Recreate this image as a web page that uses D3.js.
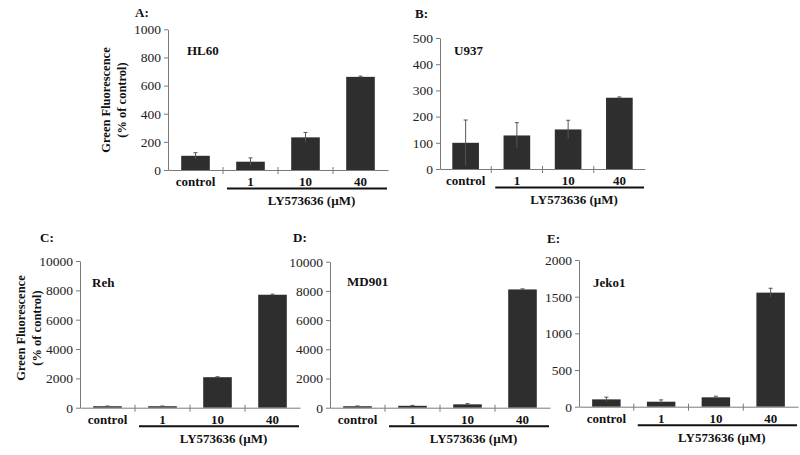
<!DOCTYPE html>
<html><head><meta charset="utf-8">
<script src="https://cdn.jsdelivr.net/npm/d3@7"></script>
<style>
body{margin:0;background:#fff;}
svg{display:block;font-family:"Liberation Serif","Times New Roman",serif;}
svg text{font-family:"Liberation Serif","Times New Roman",serif !important;}
</style></head>
<body><svg id="chart" width="800" height="455"></svg>
<script>
const categories = ["control", "1", "10", "40"];
const panelLetters = ["A:", "B:", "C:", "D:", "E:"];
const cellLines = ["HL60", "U937", "Reh", "MD901", "Jeko1"];
const groupLabel = "LY573636 (\u00b5M)";
const yTitle1 = "Green Fluorescence";
const yTitle2 = "(% of control)";

const hl60Values = [101, 59, 232, 662];
const hl60Errors = [22, 27, 35, 5];
const u937Values = [100, 128, 151, 272];
const u937Errors = [87, 49, 35, 3];
const rehValues = [100, 100, 2080, 7700];
const rehErrors = [15, 15, 30, 40];
const md901Values = [100, 130, 230, 8100];
const md901Errors = [20, 30, 50, 40];
const jeko1Values = [100, 68, 128, 1555];
const jeko1Errors = [30, 25, 15, 60];

const ticksA = [0, 200, 400, 600, 800, 1000];
const ticksB = [0, 100, 200, 300, 400, 500];
const ticksC = [0, 2000, 4000, 6000, 8000, 10000];
const ticksD = [0, 2000, 4000, 6000, 8000, 10000];
const ticksE = [0, 500, 1000, 1500, 2000];

// layout (pixels) per panel
const layouts = [
  {x0:168, x1:388, y0:170, y1:29.3, title:[106,122,100], letter:[135,17], cell:[187,55]},
  {x0:440, x1:645, y0:169, y1:38,   title:null,          letter:[415,18], cell:[454,55]},
  {x0:80,  x1:300, y0:407.7, y1:261, title:[21,37,328], letter:[40,242], cell:[92,287]},
  {x0:330, x1:550, y0:407.7, y1:261.7, title:null,      letter:[293,242], cell:[347,286]},
  {x0:579, x1:798, y0:406.7, y1:260, title:null,        letter:[547,243], cell:[593,287]}
];
const valueSets = [hl60Values, u937Values, rehValues, md901Values, jeko1Values];
const errorSets = [hl60Errors, u937Errors, rehErrors, md901Errors, jeko1Errors];
const tickSets = [ticksA, ticksB, ticksC, ticksD, ticksE];

const svg = d3.select("#chart");
const axisColor = "#7a7a7a";
const barColor = "#2e2e2e";
const serif = '"Liberation Serif","Times New Roman",serif';

layouts.forEach((L, p) => {
  const ticks = tickSets[p];
  const vals = valueSets[p], errs = errorSets[p];
  const x = d3.scaleBand().domain(categories).range([L.x0, L.x1])
    .paddingInner(0.48).paddingOuter(0.24);
  const y = d3.scaleLinear().domain([0, d3.max(ticks)]).range([L.y0, L.y1]);
  const g = svg.append("g");

  // bars
  g.selectAll("rect.bar").data(categories).join("rect")
    .attr("x", d => x(d)).attr("width", x.bandwidth())
    .attr("y", (d, i) => y(vals[i])).attr("height", (d, i) => y(0) - y(vals[i]))
    .attr("fill", barColor);

  // error bars
  const eb = g.selectAll("g.err").data(categories).join("g");
  eb.append("line")
    .attr("x1", d => x(d) + x.bandwidth()/2).attr("x2", d => x(d) + x.bandwidth()/2)
    .attr("y1", (d, i) => y(vals[i] - errs[i])).attr("y2", (d, i) => y(vals[i] + errs[i]))
    .attr("stroke", "#555").attr("stroke-width", 1);
  eb.append("line")
    .attr("x1", d => x(d) + x.bandwidth()/2 - 2).attr("x2", d => x(d) + x.bandwidth()/2 + 2)
    .attr("y1", (d, i) => y(vals[i] + errs[i])).attr("y2", (d, i) => y(vals[i] + errs[i]))
    .attr("stroke", "#555").attr("stroke-width", 1);

  // y axis
  const ya = g.append("g").attr("transform", `translate(${L.x0},0)`)
    .call(d3.axisLeft(y).tickValues(ticks).tickFormat(d3.format("d"))
      .tickSize(4).tickSizeOuter(0).tickPadding(3))
    .attr("font-family", serif);
  ya.select(".domain").attr("stroke", axisColor);
  ya.selectAll(".tick line").attr("stroke", axisColor);
  ya.selectAll(".tick text").attr("fill", "#222").style("font-size", "13.5px");

  // x axis
  const xa = g.append("g").attr("transform", `translate(0,${L.y0})`)
    .call(d3.axisBottom(x).tickSize(0).tickSizeOuter(0).tickPadding(7))
    .attr("font-family", serif);
  xa.select(".domain").attr("stroke", axisColor);
  xa.selectAll(".tick text").attr("fill", "#111").style("font-size", "13px")
    .style("font-weight", "bold");
  // category boundary ticks
  const gapHalf = (x.step() - x.bandwidth()) / 2;
  g.selectAll("line.bt").data(categories.slice(1)).join("line")
    .attr("x1", d => x(d) - gapHalf).attr("x2", d => x(d) - gapHalf)
    .attr("y1", L.y0 - 3).attr("y2", L.y0 + 4)
    .attr("stroke", axisColor).attr("stroke-width", 1);

  // bracket under treatment groups
  const bx0 = x(categories[1]) - gapHalf + 4;
  g.append("line").attr("x1", bx0).attr("x2", L.x1 - 1)
    .attr("y1", L.y0 + 18.5).attr("y2", L.y0 + 18.5)
    .attr("stroke", "#111").attr("stroke-width", 2);
  g.append("text").attr("x", (bx0 + L.x1) / 2 + 4).attr("y", L.y0 + 35)
    .attr("text-anchor", "middle").style("font-size", "13px").style("font-weight", "bold")
    .attr("fill", "#111").text(groupLabel);

  // panel letter
  g.append("text").attr("x", L.letter[0]).attr("y", L.letter[1])
    .style("font-size", "13px").style("font-weight", "bold").attr("fill", "#111")
    .text(panelLetters[p]);
  // cell line
  g.append("text").attr("x", L.cell[0]).attr("y", L.cell[1])
    .style("font-size", "13px").style("font-weight", "bold").attr("fill", "#111")
    .text(cellLines[p]);

  // y title
  if (L.title) {
    [yTitle1, yTitle2].forEach((t, k) => {
      g.append("text")
        .attr("transform", `translate(${L.title[k] + 4},${L.title[2]}) rotate(-90)`)
        .attr("text-anchor", "middle").style("font-size", "12.5px").style("font-weight", "bold")
        .attr("fill", "#111").text(t);
    });
  }
});
</script></body></html>
